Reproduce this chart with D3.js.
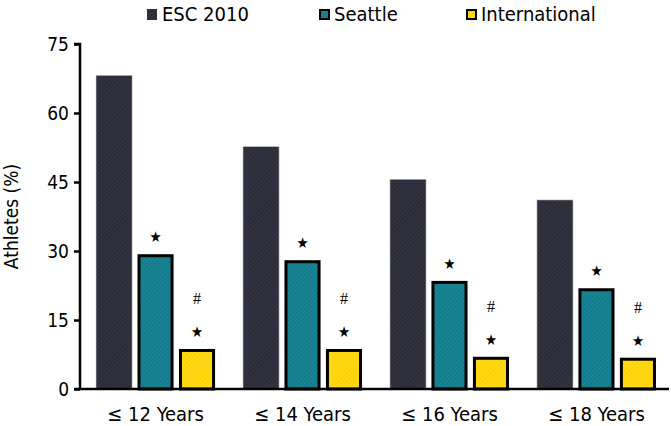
<!DOCTYPE html>
<html><head><meta charset="utf-8">
<script src="https://cdn.jsdelivr.net/npm/d3@7"></script>
<style>body{margin:0;background:#fff}svg{display:block}</style>
</head><body>
<svg id="c" width="671" height="426"></svg>
<script>
const categories = ["≤ 12 Years", "≤ 14 Years", "≤ 16 Years", "≤ 18 Years"];
const seriesNames = ["ESC 2010", "Seattle", "International"];
const esc2010 = [68.2, 52.7, 45.6, 41.1];
const seattle = [29.3, 28.0, 23.5, 21.9];
const international = [8.7, 8.7, 7.0, 6.8];
const yTicks = [0, 15, 30, 45, 60, 75];

const values = [esc2010, seattle, international];
const fills = ["#2b2c37", "#137c8c", "#ffd300"];
const hatch = ["#3f4150", "#2a96a6", "#ffe45c"];
const font = "'DejaVu Sans Condensed', 'DejaVu Sans', sans-serif";

const svg = d3.select("#c");
const defs = svg.append("defs");
fills.forEach((f, i) => {
  const p = defs.append("pattern").attr("id", "p" + i).attr("patternUnits", "userSpaceOnUse")
    .attr("width", 3).attr("height", 3).attr("patternTransform", "rotate(45)");
  p.append("rect").attr("width", 3).attr("height", 3).attr("fill", f);
  p.append("line").attr("x1", 0).attr("y1", 0).attr("x2", 0).attr("y2", 3)
    .attr("stroke", hatch[i]).attr("stroke-width", 1);
});

const mLeft = 80, mRight = 672, mTop = 44, mBottom = 389;
const y = d3.scaleLinear().domain([0, 75]).range([mBottom, mTop]);
const x0 = d3.scaleBand().domain(categories).range([mLeft, mRight]).paddingInner(0.19).paddingOuter(0.109);
const x1 = d3.scaleBand().domain(seriesNames).range([0, x0.bandwidth()]).paddingInner(0.13).paddingOuter(0);

// bars
const g = svg.append("g");
categories.forEach((c, ci) => {
  seriesNames.forEach((s, si) => {
    const v = values[si][ci];
    const bx = x0(c) + x1(s), bw = x1.bandwidth();
    if (si === 0) {
      g.append("rect").attr("x", bx).attr("y", y(v)).attr("width", bw).attr("height", y(0) - y(v))
        .attr("fill", "url(#p0)").attr("stroke", "#c8c8cc").attr("stroke-width", 0.6);
    } else {
      g.append("rect").attr("x", bx + 1.5).attr("y", y(v) + 1.5).attr("width", bw - 3).attr("height", y(0) - y(v) - 1.5)
        .attr("fill", "url(#p" + si + ")").attr("stroke", "#000").attr("stroke-width", 3);
    }
  });
  const sx = x0(c) + x1("Seattle") + x1.bandwidth() / 2;
  g.append("text").attr("x", sx).attr("y", y(seattle[ci]) - 12).attr("text-anchor", "middle")
    .attr("font-family", font).attr("font-size", 15).attr("fill", "#000").text("★");
  const ix = x0(c) + x1("International") + x1.bandwidth() / 2;
  g.append("text").attr("x", ix).attr("y", y(international[ci]) - 12).attr("text-anchor", "middle")
    .attr("font-family", font).attr("font-size", 15).attr("fill", "#000").text("★");
  g.append("text").attr("x", ix).attr("y", y(international[ci]) - 45).attr("text-anchor", "middle")
    .attr("font-family", "'Liberation Serif', serif").attr("font-size", 16).attr("fill", "#000").text("#");
});

// y axis
const ya = svg.append("g").attr("transform", `translate(${mLeft},0)`)
  .call(d3.axisLeft(y).tickValues(yTicks).tickSize(6).tickPadding(5));
ya.select(".domain").attr("stroke-width", 2.5).attr("d", `M-6,${mTop}H0V${mBottom}`);
ya.selectAll(".tick line").attr("stroke-width", 2.5);
ya.selectAll("text").attr("font-family", font).attr("font-size", 19).attr("fill", "#000");

// x axis
const xa = svg.append("g").attr("transform", `translate(0,${mBottom})`)
  .call(d3.axisBottom(x0).tickSize(0).tickPadding(18));
xa.select(".domain").attr("stroke-width", 2.5).attr("d", `M${mLeft - 6},0H669`);
xa.selectAll("text").attr("font-family", font).attr("font-size", 20).attr("fill", "#000");

// y title
svg.append("text").attr("transform", `translate(18,${(mTop + mBottom) / 2}) rotate(-90)`)
  .attr("text-anchor", "middle").attr("font-family", font).attr("font-size", 19).attr("fill", "#000")
  .text("Athletes (%)");

// legend
const legX = [147, 319, 466];
seriesNames.forEach((s, i) => {
  const lg = svg.append("g").attr("transform", `translate(${legX[i]},9)`);
  if (i === 0) lg.append("rect").attr("width", 10).attr("height", 11).attr("fill", "url(#p0)");
  else lg.append("rect").attr("x", 1).attr("y", 1).attr("width", 9).attr("height", 9)
    .attr("fill", "url(#p" + i + ")").attr("stroke", "#000").attr("stroke-width", 2);
  lg.append("text").attr("x", 15).attr("y", 12).attr("dominant-baseline", "auto")
    .attr("font-family", font).attr("font-size", 20).attr("fill", "#000").text(s);
});
</script>
</body></html>
